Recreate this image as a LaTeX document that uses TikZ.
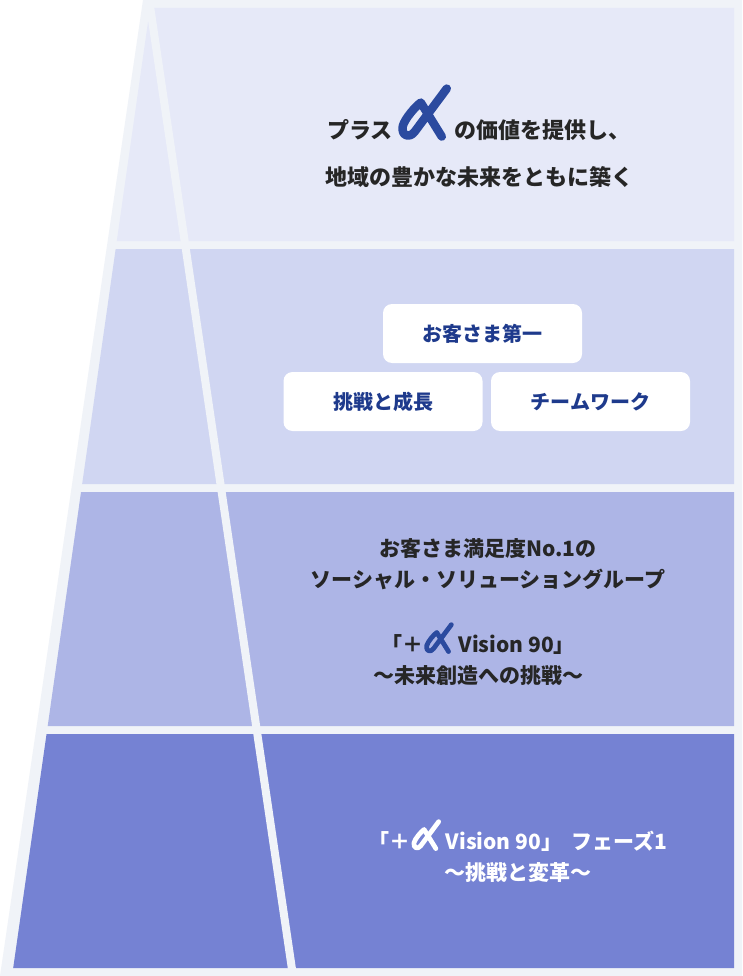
\documentclass[tikz,border=0pt]{standalone}
\usepackage{fontspec}
\setmainfont{Noto Sans CJK JP}
\definecolor{pale}{HTML}{F0F3F8}
\definecolor{bA}{HTML}{E6E9F8}
\definecolor{bB}{HTML}{D0D6F2}
\definecolor{bC}{HTML}{ADB5E6}
\definecolor{bD}{HTML}{7582D3}
\definecolor{logo}{HTML}{2B4A9F}
\definecolor{boxtxt}{HTML}{1E3A8C}
\definecolor{txt}{HTML}{262626}
\newcommand{\alogo}[2]{\tikz[baseline=0pt,x=#1,y=#1,line cap=round,line join=round]{\draw[#2,line width=0.17*#1] (0.92,1) -- (0.28,0.14) .. controls (0.18,0) and (0,0.05) .. (0.04,0.25) .. controls (0.08,0.4) and (0.3,0.65) .. (0.4,0.72) -- (0.82,0.04);}}
\tikzset{
  lbl/.style={font=\bfseries\fontsize{21}{31}\selectfont,align=center,text=txt},
  pill/.style={fill=white,rounded corners=9pt,minimum width=199pt,minimum height=59pt,text=boxtxt,font=\bfseries\fontsize{20}{24}\selectfont}
}
\begin{document}
\begin{tikzpicture}[x=1pt,y=-1pt]
\useasboundingbox (0,0) rectangle (742,976);
\fill[white] (0,0) rectangle (742,976);
\fill[pale] (143,0) -- (742,0) -- (742,976) -- (0,976) -- cycle;
\def\lx#1{150-0.1425*(#1-8)}
\fill[bA] ({\lx{8}},8) -- (734,8) -- (734,241) -- ({\lx{241}},241) -- cycle;
\fill[bB] ({\lx{249}},249) -- (734,249) -- (734,484) -- ({\lx{484}},484) -- cycle;
\fill[bC] ({\lx{492}},492) -- (734,492) -- (734,726) -- ({\lx{726}},726) -- cycle;
\fill[bD] ({\lx{734}},734) -- (734,734) -- (734,968) -- ({\lx{968}},968) -- cycle;
\coordinate (apex) at (150,6);
\coordinate (foot) at (293,976);
\draw[pale,line width=8pt] (apex) -- (foot);
% band 1
\node[lbl,font=\bfseries\fontsize{22}{47}\selectfont] (t1) at (479,136) {プラス\,\alogo{50pt}{logo}\,の価値を提供し、\\地域の豊かな未来をともに築く};
% band 2
\node[pill] (p1) at (482.5,333.5) {お客さま第一};
\node[pill] (p2) at (383,401.5) {挑戦と成長};
\node[pill] (p3) at (590.5,401.5) {チームワーク};
% band 3
\node[lbl] (t3a) at (488,564) {お客さま満足度No.1の\\ソーシャル・ソリューショングループ};
\node[lbl] (t3b) at (478,654) {「＋\alogo{28pt}{logo} Vision 90」\\〜未来創造への挑戦〜};
% band 4
\node[lbl,text=white] (t4) at (518,851) {「＋\alogo{28pt}{white} Vision 90」\ \ フェーズ1\\〜挑戦と変革〜};
\end{tikzpicture}
\end{document}
